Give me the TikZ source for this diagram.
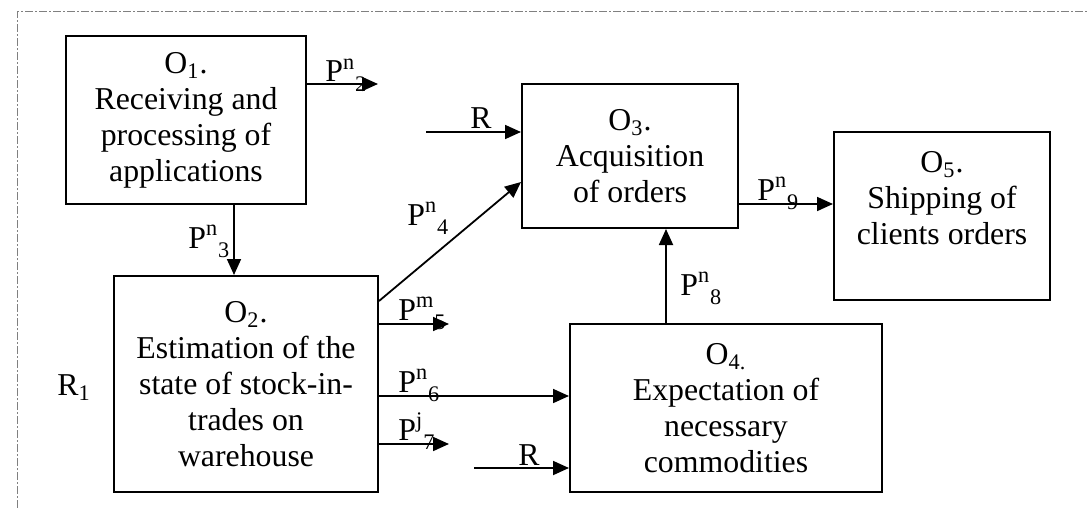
\documentclass[tikz,border=0pt]{standalone}
\usepackage{fontspec}
\setmainfont{Liberation Serif}
\usetikzlibrary{arrows.meta, calc}
\newcommand{\opfont}{\fontsize{15.9}{18}\selectfont}
\newcommand{\pl}[2]{P\textsuperscript{#1}\raisebox{-2pt}{\textsubscript{#2}}}
\tikzset{
  op/.style  = {rectangle, draw, line width=1pt, align=center,
                inner sep=0pt, font=\opfont},
  arr/.style = {-{Triangle[length=8pt, width=7pt]}, line width=0.9pt},
  lbl/.style = {inner sep=0pt, font=\opfont, anchor=base west},
  frm/.style = {gray, line width=0.5pt,
                dash pattern=on 4pt off 1pt on 1pt off 1pt},
}

\begin{document}
\begin{tikzpicture}[x=0.5pt, y=-0.5pt]
\useasboundingbox (0,0) rectangle (1087,508);

% ---- Frame ------------------------------------------------------------------
\draw[frm] (17,508) -- (17,12) -- (1087,12);

% ---- Operations -------------------------------------------------------------
\node[op, minimum width=120pt, minimum height=84pt] (o1) at (186,120)
  {O\textsubscript{1}.\\Receiving and\\processing of\\applications};

\node[op, minimum width=132pt, minimum height=108pt] (o2) at (246,384)
  {O\textsubscript{2}.\\Estimation of the\\state of stock-in-\\trades on\\warehouse};

\node[op, minimum width=108pt, minimum height=72pt] (o3) at (630,156)
  {O\textsubscript{3}.\\Acquisition\\of orders};

\node[op, minimum width=156pt, minimum height=84pt] (o4) at (726,408)
  {O\textsubscript{4.}\\Expectation of\\necessary\\commodities};

\node[op, minimum width=108pt, minimum height=84pt] (o5) at (942,216)
  {O\textsubscript{5}.\\Shipping of\\clients orders\\ \mbox{}};

% ---- Free ends --------------------------------------------------------------
\coordinate (p2end) at (378,84);
\coordinate (p5end) at (449,324);
\coordinate (p7end) at (449,444);
\coordinate (r3in)  at (426,132);
\coordinate (r4in)  at (474,468);

% ---- Connectors -------------------------------------------------------------
\draw[arr] (o1.east |- p2end) -- (p2end);
\draw[arr] (o1.south -| 234,0) -- (o2.north -| 234,0);
\draw[arr] (r3in) -- (o3.west |- r3in);
\draw[arr] (o2.east |- 0,301) -- (o3.west |- 0,182);
\draw[arr] (o3.east |- 0,204) -- (o5.west |- 0,204);
\draw[arr] (o4.north -| 666,0) -- (o3.south -| 666,0);
\draw[arr] (o2.east |- p5end) -- (p5end);
\draw[arr] (o2.east |- 0,396) -- (o4.west |- 0,396);
\draw[arr] (o2.east |- p7end) -- (p7end);
\draw[arr] (r4in) -- (o4.west |- r4in);

% ---- Labels -----------------------------------------------------------------
\node[lbl] (lp2) at (325,82)  {\pl{n}{2}};
\node[lbl] (lp3) at (188,248) {\pl{n}{3}};
\node[lbl] (lr3) at (470,128) {R};
\node[lbl] (lp4) at (407,225) {\pl{n}{4}};
\node[lbl] (lp9) at (757,200) {\pl{n}{9}};
\node[lbl] (lp8) at (680,295) {\pl{n}{8}};
\node[lbl] (lp5) at (398,320) {\pl{m}{5}};
\node[lbl] (lp6) at (398,392) {\pl{n}{6}};
\node[lbl] (lp7) at (398,440) {\pl{j}{7}};
\node[lbl] (lr4) at (518,465) {R};
\node[lbl] (lr1) at (57,395)  {R\textsubscript{1}};

\end{tikzpicture}
\end{document}
